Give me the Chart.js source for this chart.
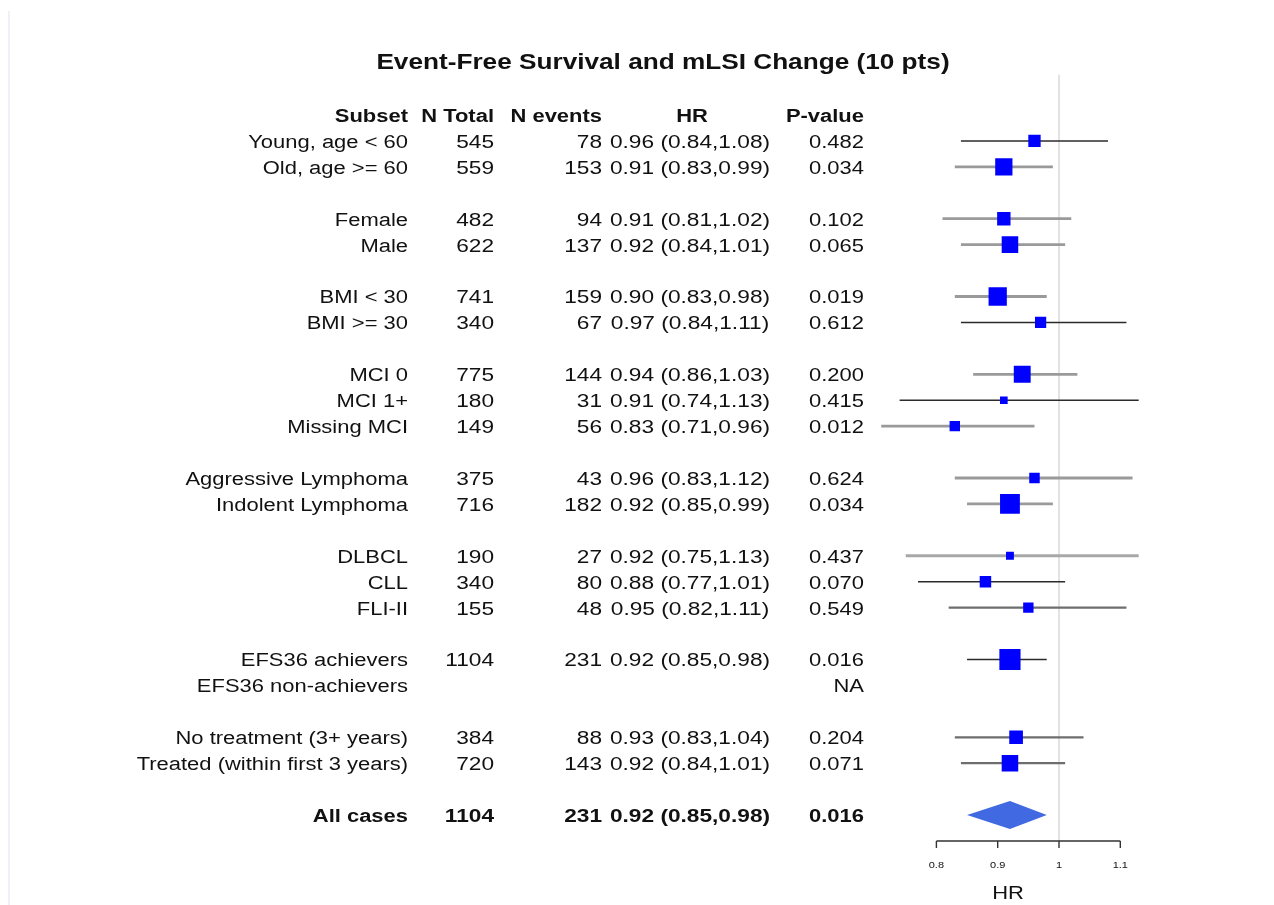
<!DOCTYPE html>
<html>
<head>
<meta charset="utf-8">
<script src="https://cdn.jsdelivr.net/npm/chart.js@4.4.1/dist/chart.umd.min.js"></script>
<style>
  html, body { margin: 0; padding: 0; background: #ffffff; }
  #wrap { width: 1274px; height: 905px; position: relative; }
</style>
</head>
<body>
<div id="wrap"><canvas id="c"></canvas></div>
<script>
// ---------------- DATA ----------------
const chartTitle = "Event-Free Survival and mLSI Change (10 pts)";
const headers = ["Subset", "N Total", "N events", "HR", "P-value"];
const subsets = ["Young, age < 60", "Old, age >= 60", "Female", "Male", "BMI < 30", "BMI >= 30",
  "MCI 0", "MCI 1+", "Missing MCI", "Aggressive Lymphoma", "Indolent Lymphoma",
  "DLBCL", "CLL", "FLI-II", "EFS36 achievers", "EFS36 non-achievers",
  "No treatment (3+ years)", "Treated (within first 3 years)", "All cases"];
const groupIds = [0,0,1,1,2,2,3,3,3,4,4,5,5,5,6,6,7,7,8];
const nTotal  = [545,559,482,622,741,340,775,180,149,375,716,190,340,155,1104,null,384,720,1104];
const nEvents = [78,153,94,137,159,67,144,31,56,43,182,27,80,48,231,null,88,143,231];
const hr      = [0.96,0.91,0.91,0.92,0.90,0.97,0.94,0.91,0.83,0.96,0.92,0.92,0.88,0.95,0.92,null,0.93,0.92,0.92];
const ciLow   = [0.84,0.83,0.81,0.84,0.83,0.84,0.86,0.74,0.71,0.83,0.85,0.75,0.77,0.82,0.85,null,0.83,0.84,0.85];
const ciHigh  = [1.08,0.99,1.02,1.01,0.98,1.11,1.03,1.13,0.96,1.12,0.99,1.13,1.01,1.11,0.98,null,1.04,1.01,0.98];
const pValues = ["0.482","0.034","0.102","0.065","0.019","0.612","0.200","0.415","0.012","0.624",
  "0.034","0.437","0.070","0.549","0.016","NA","0.204","0.071","0.016"];
const xTicks = [0.8, 0.9, 1, 1.1];
const xTickLabels = ["0.8", "0.9", "1", "1.1"];
const xAxisTitle = "HR";
const summaryIndex = 18;

// ---------------- STYLES ----------------
const ciStyleKeys = ['dark','gray','gray','gray','gray','dark','gray','dark','gray','gray','gray','light','dark','mid','dark',null,'mid','mid',null];
const ciStyles = {
  dark:  { color: '#2b2b2b', width: 1.6 },
  mid:   { color: '#6e6e6e', width: 2.2 },
  gray:  { color: '#9a9a9a', width: 2.8 },
  light: { color: '#a8a8a8', width: 3.0 }
};
const FONT = '"Liberation Sans", Arial, Helvetica, sans-serif';
const SX = 1.22;           // horizontal text stretch seen in the reference
const SX_NUM = 1.26;       // numbers look a little wider
const TEXT_DY = 2;
const TEXT_COLOR = '#111111';

// row positions: header at 0, a blank row between groups
const rowPos = [];
(function () {
  let p = 0;
  for (let i = 0; i < subsets.length; i++) {
    p += 1;
    if (i > 0 && groupIds[i] !== groupIds[i - 1]) p += 1;
    rowPos.push(p);
  }
})();

const squarePoints = [];
const squareRadii = [];
for (let i = 0; i < subsets.length; i++) {
  if (i === summaryIndex || hr[i] == null) continue;
  squarePoints.push({ x: hr[i], y: rowPos[i] });
  const side = 0.8 + 2.9 / Math.log(ciHigh[i] / ciLow[i]);
  squareRadii.push(side / (2 * Math.SQRT1_2));
}

function drawText(ctx, text, x, y, align, font, sx) {
  ctx.save();
  ctx.translate(x, y + TEXT_DY);
  ctx.scale(sx, 1);
  ctx.font = font;
  ctx.fillStyle = TEXT_COLOR;
  ctx.textAlign = align;
  ctx.textBaseline = 'middle';
  ctx.fillText(text, 0, 0);
  ctx.restore();
}

const forestPlugin = {
  id: 'forest',
  beforeDatasetsDraw(chart) {
    const ctx = chart.ctx;
    const xs = chart.scales.x, ys = chart.scales.y;
    ctx.save();
    ctx.fillStyle = '#eef1f6';
    ctx.fillRect(8, 11, 2, 905);
    ctx.strokeStyle = '#cfcfcf';
    ctx.lineWidth = 1.2;
    const x1 = xs.getPixelForValue(1);
    ctx.beginPath();
    ctx.moveTo(x1, ys.getPixelForValue(-1.55));
    ctx.lineTo(x1, ys.getPixelForValue(28));
    ctx.stroke();
    ctx.lineCap = 'butt';
    for (let i = 0; i < subsets.length; i++) {
      if (i === summaryIndex || hr[i] == null) continue;
      const st = ciStyles[ciStyleKeys[i]];
      const y = ys.getPixelForValue(rowPos[i]);
      ctx.strokeStyle = st.color;
      ctx.lineWidth = st.width;
      ctx.beginPath();
      ctx.moveTo(xs.getPixelForValue(ciLow[i]), y);
      ctx.lineTo(xs.getPixelForValue(ciHigh[i]), y);
      ctx.stroke();
    }
    ctx.restore();
  },
  afterDraw(chart) {
    const ctx = chart.ctx;
    const xs = chart.scales.x, ys = chart.scales.y;
    const yd = ys.getPixelForValue(rowPos[summaryIndex]);
    ctx.save();
    ctx.fillStyle = '#4169E1';
    ctx.beginPath();
    ctx.moveTo(xs.getPixelForValue(ciLow[summaryIndex]), yd);
    ctx.lineTo(xs.getPixelForValue(hr[summaryIndex]), yd - 14);
    ctx.lineTo(xs.getPixelForValue(ciHigh[summaryIndex]), yd);
    ctx.lineTo(xs.getPixelForValue(hr[summaryIndex]), yd + 14);
    ctx.closePath();
    ctx.fill();
    const ya = ys.getPixelForValue(28);
    ctx.strokeStyle = '#333333';
    ctx.lineWidth = 1.4;
    ctx.beginPath();
    ctx.moveTo(xs.getPixelForValue(xTicks[0]), ya);
    ctx.lineTo(xs.getPixelForValue(xTicks[xTicks.length - 1]), ya);
    xTicks.forEach(t => {
      const xp = xs.getPixelForValue(t);
      ctx.moveTo(xp, ya);
      ctx.lineTo(xp, ya + 7);
    });
    ctx.stroke();
    ctx.restore();
    xTicks.forEach((t, k) => {
      drawText(ctx, xTickLabels[k], xs.getPixelForValue(t), ya + 23, 'center', '9px ' + FONT, SX);
    });
    drawText(ctx, xAxisTitle, 1008, ya + 51, 'center', '18px ' + FONT, SX);

    drawText(ctx, chartTitle, 663, 61, 'center', 'bold 22px ' + FONT, 1.19);

    const colRight = { subset: 408, nt: 494, ne: 602, p: 864 };
    const hrCenter = 690;
    const yh = ys.getPixelForValue(0);
    const hf = 'bold 18px ' + FONT;
    drawText(ctx, headers[0], colRight.subset, yh, 'right', hf, SX);
    drawText(ctx, headers[1], colRight.nt, yh, 'right', hf, SX);
    drawText(ctx, headers[2], colRight.ne, yh, 'right', hf, SX);
    drawText(ctx, headers[3], 692, yh, 'center', hf, SX);
    drawText(ctx, headers[4], colRight.p, yh, 'right', hf, SX);
    for (let i = 0; i < subsets.length; i++) {
      const y = ys.getPixelForValue(rowPos[i]);
      const f = (i === summaryIndex ? 'bold ' : '') + '18px ' + FONT;
      drawText(ctx, subsets[i], colRight.subset, y, 'right', f, SX);
      if (nTotal[i] != null) drawText(ctx, String(nTotal[i]), colRight.nt, y, 'right', f, SX_NUM);
      if (nEvents[i] != null) drawText(ctx, String(nEvents[i]), colRight.ne, y, 'right', f, SX_NUM);
      if (hr[i] != null) {
        const s = hr[i].toFixed(2) + ' (' + ciLow[i].toFixed(2) + ',' + ciHigh[i].toFixed(2) + ')';
        drawText(ctx, s, hrCenter, y, 'center', f, SX_NUM);
      }
      drawText(ctx, pValues[i], colRight.p, y, 'right', f, SX);
    }
  }
};

new Chart(document.getElementById('c'), {
  type: 'scatter',
  data: {
    datasets: [{
      data: squarePoints,
      pointStyle: 'rect',
      pointRadius: squareRadii,
      pointHoverRadius: squareRadii,
      pointBackgroundColor: '#0000FF',
      pointBorderWidth: 0,
      showLine: false
    }]
  },
  options: {
    responsive: true,
    maintainAspectRatio: false,
    animation: false,
    events: [],
    layout: { padding: { left: 875.1, right: 92.4, top: 89.07, bottom: 64 } },
    plugins: { legend: { display: false }, tooltip: { enabled: false }, title: { display: false } },
    scales: {
      x: { type: 'linear', min: 0.7, max: 1.2, display: false },
      y: { type: 'linear', min: -1, max: 28, reverse: true, display: false }
    }
  },
  plugins: [forestPlugin]
});
</script>
</body>
</html>
